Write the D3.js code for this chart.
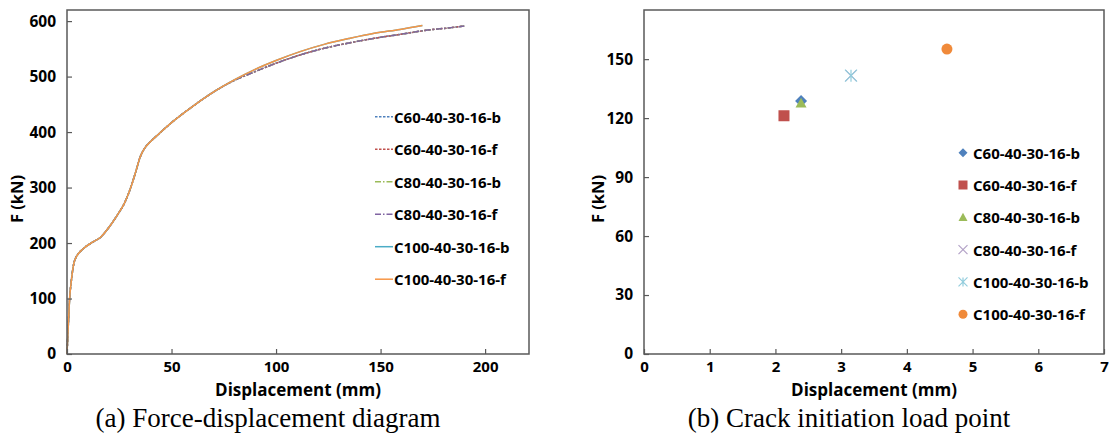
<!DOCTYPE html>
<html><head><meta charset="utf-8">
<script src="https://cdn.jsdelivr.net/npm/d3@7"></script>
<style>
html,body{margin:0;padding:0;background:#fff;}
svg{display:block;}
</style></head>
<body>
<svg id="chart" width="1116" height="439"></svg>
<script>
// ---------- DATA ----------
const seriesNames = ["C60-40-30-16-b","C60-40-30-16-f","C80-40-30-16-b","C80-40-30-16-f","C100-40-30-16-b","C100-40-30-16-f"];
const seriesColors = ["#4f81bd","#c0504d","#9bbb59","#8064a2","#4bacc6","#f79646"];
const markerColors = ["#4f81bd","#c0504d","#9bbb59","#b3a2c7","#93cddd","#f08a3a"];

// (a) force-displacement curves : displacement (mm), force (kN)
const dispLong  = [0,0.6,1.2,2.1,3.7,7.9,12,16.2,20,24,27.5,30.5,33,35,37,40,44,50,60,70,80,90,100,111.5,123,135.4,147,159.3,171,183.3,190];
const forceLong = [0,50,97,133,169,190,201,211,228,250,272,300,330,355,370,383,397,417,446,472,493,509,524,539,551,561,569,576,583,588,591];
const dispShort  = [0,0.6,1.2,2.1,3.7,7.9,12,16.2,20,24,27.5,30.5,33,35,37,40,44,50,60,70,80,90,100,111.5,123,135.4,147,159.3,170];
const forceShort = [0,50,97,133,169,190,201,211,228,250,272,300,330,355,370,383,397,417,446,472,494,513,529,545,558,569,578,585,592];
const c60bX = dispLong,  c60bY = forceLong;
const c60fX = dispLong,  c60fY = forceLong;
const c80bX = dispLong,  c80bY = forceLong;
const c80fX = dispLong,  c80fY = forceLong;
const c100bX = dispShort, c100bY = forceShort;
const c100fX = dispShort, c100fY = forceShort;
const curveX = [c60bX,c60fX,c80bX,c80fX,c100bX,c100fX];
const curveY = [c60bY,c60fY,c80bY,c80fY,c100bY,c100fY];

// (b) crack initiation load points
const crackDisp  = [2.39, 2.13, 2.39, 3.15, 3.15, 4.61];
const crackLoad  = [128.7, 121.2, 127.6, 141.6, 141.6, 155.1];

const leftXTicks = [0,50,100,150,200];
const leftYTicks = [0,100,200,300,400,500,600];
const rightXTicks = [0,1,2,3,4,5,6,7];
const rightYTicks = [0,30,60,90,120,150];

const xTitle = "Displacement (mm)";
const yTitle = "F (kN)";
const captionA = "(a) Force-displacement diagram";
const captionB = "(b) Crack initiation load point";

// ---------- DRAW ----------
const svg = d3.select("#chart");
const FONT = "'Open Sans', sans-serif";
const AX = "#595959";

function frame(g, x, y, xt, yt) {
  const [x0,x1] = x.range(), [y1,y0] = y.range();
  g.append("g").attr("transform",`translate(0,${y1})`)
    .call(d3.axisBottom(x).tickValues(xt).tickSizeInner(-5).tickSizeOuter(0).tickPadding(7).tickFormat(d3.format("d")))
    .call(a=>a.select(".domain").remove())
    .call(a=>a.selectAll("line").attr("stroke",AX).attr("stroke-width",1.2))
    .call(a=>a.selectAll("text").attr("font-family",FONT).attr("font-weight",700).attr("font-size",15).attr("fill","#000"));
  g.append("g").attr("transform",`translate(${x0},0)`)
    .call(d3.axisLeft(y).tickValues(yt).tickSizeInner(-5).tickSizeOuter(0).tickPadding(11).tickFormat(d3.format("d")))
    .call(a=>a.select(".domain").remove())
    .call(a=>a.selectAll("line").attr("stroke",AX).attr("stroke-width",1.2))
    .call(a=>a.selectAll("text").attr("font-family",FONT).attr("font-weight",700).attr("font-size",15.5).attr("fill","#000"));
  g.append("rect").attr("x",x0).attr("y",y0).attr("width",x1-x0).attr("height",y1-y0)
    .attr("fill","none").attr("stroke",AX).attr("stroke-width",1.5);
}

function titles(g, cx, yLabelX, caption, capX) {
  g.append("text").attr("x",cx).attr("y",395.5).attr("text-anchor","middle")
    .attr("font-family",FONT).attr("font-weight",700).attr("font-size",17).text(xTitle);
  g.append("text").attr("transform",`translate(${yLabelX},199) rotate(-90)`).attr("text-anchor","middle")
    .attr("dominant-baseline","central")
    .attr("font-family",FONT).attr("font-weight",700).attr("font-size",16.5).text(yTitle);
  g.append("text").attr("x",capX).attr("y",427).attr("text-anchor","middle")
    .attr("font-family","'Liberation Serif', 'Times New Roman', serif").attr("font-size",27).text(caption);
}

// ---- left chart ----
const xA = d3.scaleLinear().domain([0,221]).range([67,529]);
const yA = d3.scaleLinear().domain([0,620]).range([354,10]);
const gA = svg.append("g");
const dashes = ["2.5,1.5","2.5,1.5","6,2,1.5,2","6,2,1.5,2",null,null];
const line = d3.line().x(d=>xA(d[0])).y(d=>yA(d[1])).curve(d3.curveMonotoneX);
curveX.forEach((xs,i)=>{
  const pts = xs.map((v,j)=>[v,curveY[i][j]]);
  gA.append("path").datum(pts).attr("d",line).attr("fill","none")
    .attr("stroke",seriesColors[i]).attr("stroke-width",1.5)
    .attr("stroke-dasharray",dashes[i]);
});
frame(gA, xA, yA, leftXTicks, leftYTicks);
titles(gA, 298, 16, captionA, 268);
const legA = gA.append("g");
seriesNames.forEach((n,i)=>{
  const yy = 116.7 + i*32.5;
  legA.append("line").attr("x1",375).attr("x2",393).attr("y1",yy).attr("y2",yy)
    .attr("stroke",seriesColors[i]).attr("stroke-width",1.5).attr("stroke-dasharray",dashes[i]);
  legA.append("text").attr("x",394).attr("y",yy).attr("dominant-baseline","central")
    .attr("font-family",FONT).attr("font-weight",700).attr("font-size",15).text(n);
});

// ---- right chart ----
const xB = d3.scaleLinear().domain([0,7]).range([644,1104]);
const yB = d3.scaleLinear().domain([0,175]).range([354,10]);
const gB = svg.append("g");
frame(gB, xB, yB, rightXTicks, rightYTicks);
titles(gB, 874, 597, captionB, 849);

function marker(g, type, cx, cy, color, s) {
  const h = s/2;
  if (type==="diamond") {
    g.append("path").attr("d",`M${cx},${cy-h}L${cx+h},${cy}L${cx},${cy+h}L${cx-h},${cy}Z`).attr("fill",color);
  } else if (type==="square") {
    g.append("rect").attr("x",cx-h).attr("y",cy-h).attr("width",s).attr("height",s).attr("fill",color);
  } else if (type==="triangle") {
    g.append("path").attr("d",`M${cx},${cy-h}L${cx+h},${cy+h*0.8}L${cx-h},${cy+h*0.8}Z`).attr("fill",color);
  } else if (type==="x") {
    g.append("path").attr("d",`M${cx-h},${cy-h}L${cx+h},${cy+h}M${cx-h},${cy+h}L${cx+h},${cy-h}`).attr("stroke",color).attr("stroke-width",1.2);
  } else if (type==="star") {
    g.append("path").attr("d",`M${cx-h},${cy-h}L${cx+h},${cy+h}M${cx-h},${cy+h}L${cx+h},${cy-h}M${cx},${cy-h}L${cx},${cy+h}`).attr("stroke",color).attr("stroke-width",1.2);
  } else if (type==="circle") {
    g.append("circle").attr("cx",cx).attr("cy",cy).attr("r",h).attr("fill",color);
  }
}
const mTypes = ["diamond","square","triangle","x","star","circle"];
const mSizes = [12,11,11,11,12,11];
crackDisp.forEach((d,i)=>{
  marker(gB, mTypes[i], xB(d), yB(crackLoad[i]), markerColors[i], mSizes[i]);
});
seriesNames.forEach((n,i)=>{
  const yy = 152.7 + i*32.3;
  marker(gB, mTypes[i], 963, yy, markerColors[i], 9);
  gB.append("text").attr("x",973).attr("y",yy).attr("dominant-baseline","central")
    .attr("font-family",FONT).attr("font-weight",700).attr("font-size",15).text(n);
});
</script>
</body></html>
